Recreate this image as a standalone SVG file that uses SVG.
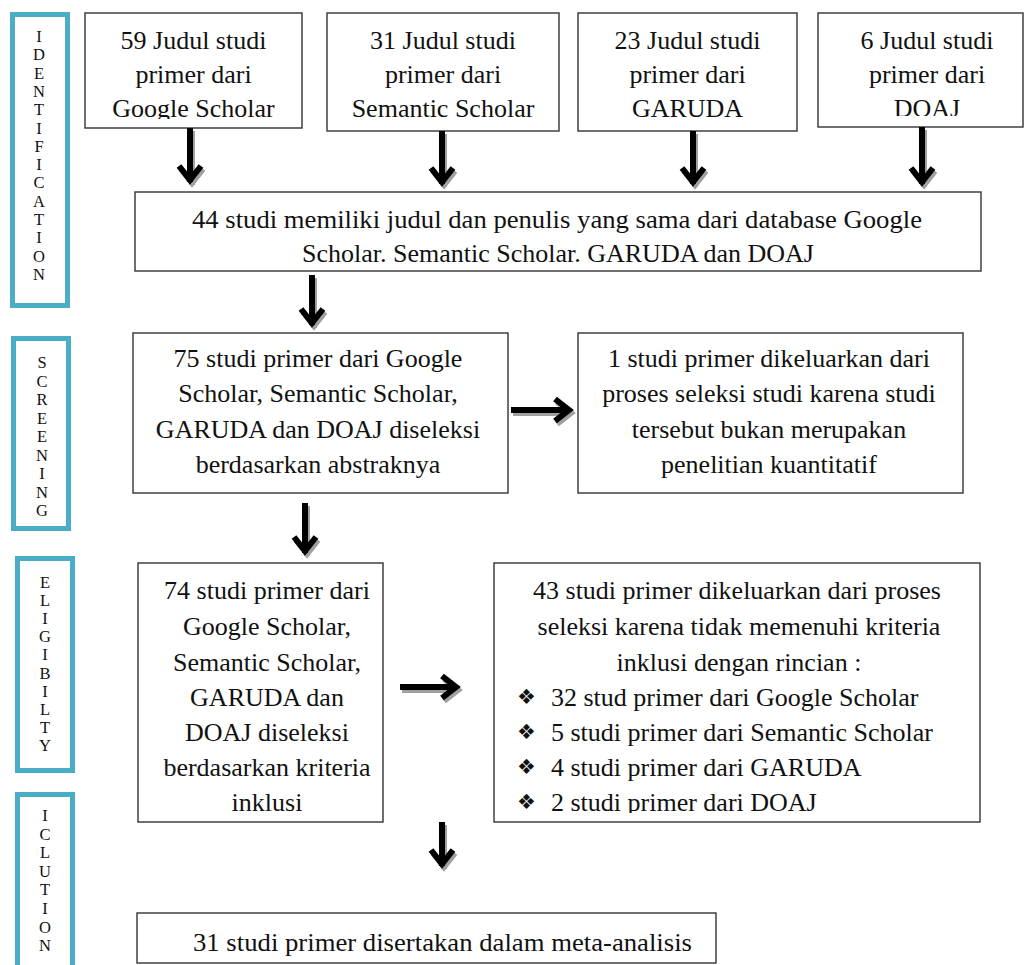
<svg xmlns="http://www.w3.org/2000/svg" width="1025" height="965" viewBox="0 0 1025 965">
<style>
.bar{fill:#fff;stroke:#4bacc6;stroke-width:5}
.lbl{font-family:"Liberation Serif","Times New Roman",serif;font-size:16.5px;fill:#111;text-anchor:middle}
.box{fill:#fff;stroke:#333;stroke-width:1.4}
.t{font-family:"Liberation Serif","Times New Roman",serif;font-size:26px;fill:#111;text-anchor:middle}
.tl{font-family:"Liberation Serif","Times New Roman",serif;font-size:26px;fill:#111}
.bul{font-family:"DejaVu Sans",sans-serif;font-size:21px;fill:#111}
.ar{fill:none;stroke:#000;stroke-width:6;stroke-linejoin:miter;stroke-linecap:butt}
.sh{fill:none;stroke:#a0a0a0;stroke-width:6;stroke-linejoin:miter;stroke-linecap:butt}
</style>
<defs>
<clipPath id="c1"><rect x="86" y="14" width="215" height="105"/></clipPath>
<clipPath id="c4"><rect x="819" y="14" width="204" height="102"/></clipPath>
<clipPath id="c74"><rect x="139" y="564" width="243" height="249"/></clipPath>
<clipPath id="c43"><rect x="495" y="564" width="484" height="249"/></clipPath>
</defs>
<rect width="1025" height="965" fill="#fff"/>

<g id="phase-identification">
<rect class="bar" x="12.5" y="14.5" width="55" height="291"/>
<text class="lbl"><tspan x="39" y="42">I</tspan><tspan x="39" y="60.3">D</tspan><tspan x="39" y="78.6">E</tspan><tspan x="39" y="96.9">N</tspan><tspan x="39" y="115.2">T</tspan><tspan x="39" y="133.5">I</tspan><tspan x="39" y="151.8">F</tspan><tspan x="39" y="170.1">I</tspan><tspan x="39" y="188.4">C</tspan><tspan x="39" y="206.7">A</tspan><tspan x="39" y="225">T</tspan><tspan x="39" y="243.3">I</tspan><tspan x="39" y="261.6">O</tspan><tspan x="39" y="279.9">N</tspan></text>
</g>
<g id="phase-screening">
<rect class="bar" x="13.5" y="338.5" width="55" height="190"/>
<text class="lbl"><tspan x="42" y="368">S</tspan><tspan x="42" y="386.5">C</tspan><tspan x="42" y="405">R</tspan><tspan x="42" y="423.5">E</tspan><tspan x="42" y="442">E</tspan><tspan x="42" y="460.5">N</tspan><tspan x="42" y="479">I</tspan><tspan x="42" y="497.5">N</tspan><tspan x="42" y="516">G</tspan></text>
</g>
<g id="phase-eligibility">
<rect class="bar" x="17.5" y="558.5" width="55" height="212"/>
<text class="lbl"><tspan x="45" y="588">E</tspan><tspan x="45" y="606.1">L</tspan><tspan x="45" y="624.2">I</tspan><tspan x="45" y="642.3">G</tspan><tspan x="45" y="660.4">I</tspan><tspan x="45" y="678.5">B</tspan><tspan x="45" y="696.6">I</tspan><tspan x="45" y="714.7">L</tspan><tspan x="45" y="732.8">T</tspan><tspan x="45" y="751">Y</tspan></text>
</g>
<g id="phase-inclusion">
<rect class="bar" x="17.5" y="794.5" width="55" height="200"/>
<text class="lbl"><tspan x="45" y="821">I</tspan><tspan x="45" y="839.6">C</tspan><tspan x="45" y="858.2">L</tspan><tspan x="45" y="876.8">U</tspan><tspan x="45" y="895.4">T</tspan><tspan x="45" y="914">I</tspan><tspan x="45" y="932.6">O</tspan><tspan x="45" y="951.2">N</tspan></text>
</g>

<g id="node-google">
<rect class="box" x="85" y="13" width="217" height="115"/>
<text class="t" clip-path="url(#c1)"><tspan x="193.5" y="49">59 Judul studi</tspan><tspan x="193.5" y="83">primer dari</tspan><tspan x="193.5" y="117">Google Scholar</tspan></text>
</g>
<g id="node-semantic">
<rect class="box" x="327" y="13" width="232" height="118"/>
<text class="t"><tspan x="443" y="49">31 Judul studi</tspan><tspan x="443" y="83">primer dari</tspan><tspan x="443" y="117">Semantic Scholar</tspan></text>
</g>
<g id="node-garuda">
<rect class="box" x="578" y="13" width="219" height="118"/>
<text class="t"><tspan x="687.5" y="49">23 Judul studi</tspan><tspan x="687.5" y="83">primer dari</tspan><tspan x="687.5" y="117">GARUDA</tspan></text>
</g>
<g id="node-doaj">
<rect class="box" x="818" y="13" width="205" height="114"/>
<text class="t" clip-path="url(#c4)"><tspan x="927" y="49">6 Judul studi</tspan><tspan x="927" y="83">primer dari</tspan><tspan x="927" y="117">DOAJ</tspan></text>
</g>

<g id="node-duplicates">
<rect class="box" x="135" y="192" width="846" height="79"/>
<text class="t"><tspan x="557" y="228" textLength="730" lengthAdjust="spacingAndGlyphs">44 studi memiliki judul dan penulis yang sama dari database Google</tspan><tspan x="558" y="262">Scholar. Semantic Scholar. GARUDA dan DOAJ</tspan></text>
</g>

<g id="node-screened">
<rect class="box" x="133" y="333" width="375" height="160"/>
<text class="t"><tspan x="318" y="367">75 studi primer dari Google</tspan><tspan x="318" y="402">Scholar, Semantic Scholar,</tspan><tspan x="318" y="438">GARUDA dan DOAJ diseleksi</tspan><tspan x="318" y="473">berdasarkan abstraknya</tspan></text>
</g>
<g id="node-excluded1">
<rect class="box" x="578" y="333" width="385" height="160"/>
<text class="t"><tspan x="769" y="367">1 studi primer dikeluarkan dari</tspan><tspan x="769" y="402">proses seleksi studi karena studi</tspan><tspan x="769" y="438">tersebut bukan merupakan</tspan><tspan x="769" y="473">penelitian kuantitatif</tspan></text>
</g>

<g id="node-eligible">
<rect class="box" x="138" y="563" width="245" height="259"/>
<text class="t" clip-path="url(#c74)"><tspan x="267" y="599">74 studi primer dari</tspan><tspan x="267" y="635">Google Scholar,</tspan><tspan x="267" y="671">Semantic Scholar,</tspan><tspan x="267" y="706">GARUDA dan</tspan><tspan x="267" y="741">DOAJ diseleksi</tspan><tspan x="267" y="776">berdasarkan kriteria</tspan><tspan x="267" y="811">inklusi</tspan></text>
</g>
<g id="node-excluded2">
<rect class="box" x="494" y="563" width="486" height="259"/>
<g clip-path="url(#c43)">
<text class="t"><tspan x="737" y="599">43 studi primer dikeluarkan dari proses</tspan><tspan x="739" y="635">seleksi karena tidak memenuhi kriteria</tspan><tspan x="739" y="671">inklusi dengan rincian :</tspan></text>
<text class="bul"><tspan x="517" y="704">❖</tspan><tspan x="517" y="739">❖</tspan><tspan x="517" y="774">❖</tspan><tspan x="517" y="809">❖</tspan></text>
<text class="tl"><tspan x="551" y="706">32 stud primer dari Google Scholar</tspan><tspan x="551" y="741">5 studi primer dari Semantic Scholar</tspan><tspan x="551" y="776">4 studi primer dari GARUDA</tspan><tspan x="551" y="811">2 studi primer dari DOAJ</tspan></text>
</g>
</g>

<g id="node-included">
<rect class="box" x="137" y="913" width="579" height="50"/>
<text class="tl" x="193" y="951" textLength="499" lengthAdjust="spacingAndGlyphs">31 studi primer disertakan dalam meta-analisis</text>
</g>

<g id="connectors">
<g transform="translate(2,3)">
<path class="sh" d="M190 128V182M179 166L190 180L201 166"/>
<path class="sh" d="M442 131V184M431 168L442 182L453 168"/>
<path class="sh" d="M693 131V184M682 168L693 182L704 168"/>
<path class="sh" d="M922 127V184M911 168L922 182L933 168"/>
<path class="sh" d="M312 275V325M301 309L312 323L323 309"/>
<path class="sh" d="M511 410H569M555 399L569 410L555 421"/>
<path class="sh" d="M305 503V553M294 537L305 551L316 537"/>
<path class="sh" d="M400 687H456M442 676L456 687L442 698"/>
<path class="sh" d="M442 822V866M431 850L442 864L453 850"/>
</g>
<path class="ar" d="M190 128V182M179 166L190 180L201 166"/>
<path class="ar" d="M442 131V184M431 168L442 182L453 168"/>
<path class="ar" d="M693 131V184M682 168L693 182L704 168"/>
<path class="ar" d="M922 127V184M911 168L922 182L933 168"/>
<path class="ar" d="M312 275V325M301 309L312 323L323 309"/>
<path class="ar" d="M511 410H569M555 399L569 410L555 421"/>
<path class="ar" d="M305 503V553M294 537L305 551L316 537"/>
<path class="ar" d="M400 687H456M442 676L456 687L442 698"/>
<path class="ar" d="M442 822V866M431 850L442 864L453 850"/>
</g>
</svg>
